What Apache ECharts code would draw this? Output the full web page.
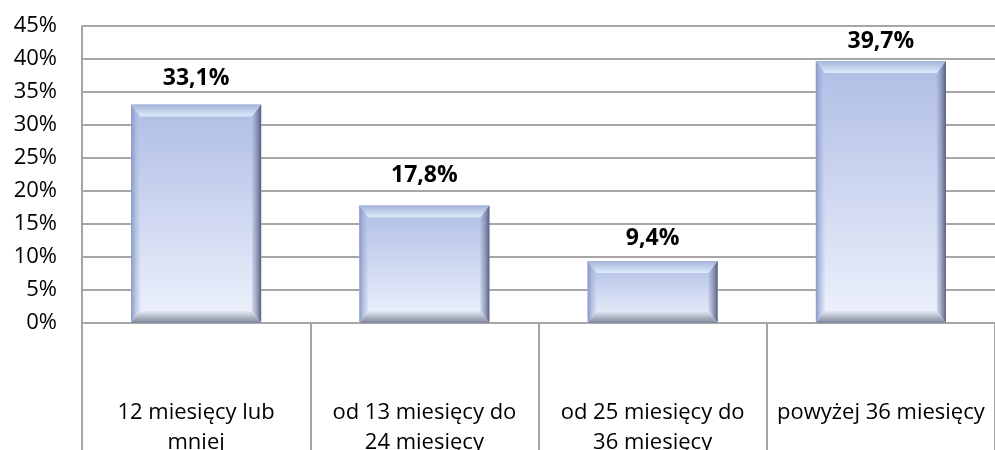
<!DOCTYPE html>
<html>
<head>
<meta charset="utf-8">
<script src="https://cdn.jsdelivr.net/npm/echarts@6/dist/echarts.min.js"></script>
<style>
  html, body { margin: 0; padding: 0; background: #fff; }
  #chart { width: 995px; height: 450px; }
</style>
</head>
<body>
<div id="chart"></div>
<script>
var categories = ['12 miesięcy lub\nmniej', 'od 13 miesięcy do\n24 miesięcy', 'od 25 miesięcy do\n36 miesięcy', 'powyżej 36 miesięcy'];
var shares = [33.1, 17.8, 9.4, 39.7];
var yTicks = [0, 5, 10, 15, 20, 25, 30, 35, 40, 45];

var FONT = '"Open Sans"';
var gridColor = '#a6a6a6';
var barRatio = 0.57;
// labels were placed by hand in the original, so the gap above each bar differs
var labelGap = [15, 19, 11, 8];

function fmt(v) {
    return String(v).replace('.', ',') + '%';
}

// bevel edges drawn over each bar, from the same data
function renderBevel(params, api) {
    var top = api.coord([api.value(0), api.value(1)]);
    var base = api.coord([api.value(0), 0]);
    var w = api.size([1, 0])[0] * barRatio;
    var x0 = top[0] - w / 2, x1 = top[0] + w / 2;
    var y0 = top[1], y1 = base[1];
    var bv = Math.min(12, (y1 - y0) / 3), sv = 9;
    return {
        type: 'group',
        children: [
            { type: 'polygon', shape: { points: [[x0, y0], [x1, y0], [x1 - sv, y0 + bv], [x0 + sv, y0 + bv]] },
              style: { fill: new echarts.graphic.LinearGradient(0, 0, 0, 1, [{ offset: 0, color: '#a6b3da' }, { offset: 1, color: '#dcecfb' }]) } },
            { type: 'polygon', shape: { points: [[x0, y0], [x0 + sv, y0 + bv], [x0 + sv, y1 - bv], [x0, y1]] },
              style: { fill: new echarts.graphic.LinearGradient(0, 0, 1, 0, [{ offset: 0, color: '#8797c6' }, { offset: 1, color: 'rgba(190,202,235,0.3)' }]) } },
            { type: 'polygon', shape: { points: [[x1, y0], [x1 - sv, y0 + bv], [x1 - sv, y1 - bv], [x1, y1]] },
              style: { fill: new echarts.graphic.LinearGradient(0, 0, 1, 0, [{ offset: 0, color: 'rgba(160,170,205,0.4)' }, { offset: 1, color: '#545d7e' }]) } },
            { type: 'polygon', shape: { points: [[x0, y1], [x1, y1], [x1 - sv, y1 - bv], [x0 + sv, y1 - bv]] },
              style: { fill: new echarts.graphic.LinearGradient(0, 0, 0, 1, [{ offset: 0, color: '#e4e8f4' }, { offset: 1, color: '#80869a' }]) } }
        ]
    };
}

var chart = echarts.init(document.getElementById('chart'));
chart.setOption({
    animation: false,
    grid: { left: 82, right: 0, top: 26, bottom: 127, outerBoundsMode: 'none', containLabel: false },
    xAxis: {
        type: 'category',
        data: categories,
        axisLine: { lineStyle: { color: gridColor, width: 2 } },
        axisTick: { show: true, length: 130, inside: false, interval: 0, lineStyle: { color: gridColor, width: 2 } },
        axisLabel: {
            interval: 0, margin: 75, color: '#000', fontFamily: FONT, fontSize: 22, lineHeight: 30,
            verticalAlign: 'top'
        }
    },
    yAxis: {
        type: 'value',
        min: yTicks[0],
        max: yTicks[yTicks.length - 1],
        interval: 5,
        axisLine: { show: true, lineStyle: { color: gridColor, width: 2 } },
        axisTick: { show: false },
        splitLine: { lineStyle: { color: gridColor, width: 2 } },
        axisLabel: { margin: 25, color: '#000', fontFamily: FONT, fontSize: 22, formatter: function (v) { return v + '%'; } }
    },
    series: [
        {
            type: 'bar',
            data: shares.map(function (v, i) {
                return { value: v, label: { distance: labelGap[i] } };
            }),
            barWidth: (barRatio * 100) + '%',
            itemStyle: {
                color: new echarts.graphic.LinearGradient(0, 0, 0, 1, [
                    { offset: 0, color: '#afbde5' },
                    { offset: 1, color: '#eef2fc' }
                ])
            },
            label: {
                show: true, position: 'top', color: '#000',
                fontFamily: FONT, fontSize: 23, fontWeight: 'bold',
                formatter: function (p) { return fmt(p.value); }
            }
        },
        {
            type: 'custom',
            renderItem: renderBevel,
            data: shares.map(function (v, i) { return [i, v]; }),
            z: 3,
            silent: true
        }
    ]
});
</script>
</body>
</html>
